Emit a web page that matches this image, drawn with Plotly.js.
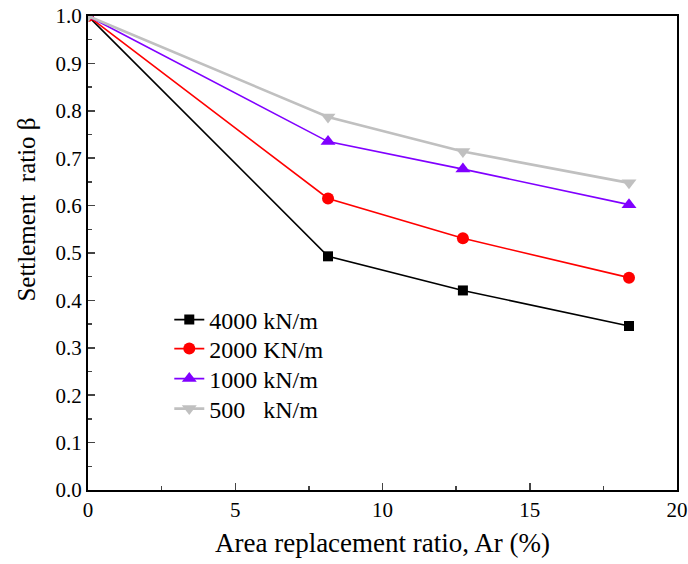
<!DOCTYPE html>
<html>
<head>
<meta charset="utf-8">
<script src="https://cdn.plot.ly/plotly-3.0.1.min.js"></script>
<style>html,body{margin:0;padding:0;background:#fff}#chart{width:688px;height:564px}</style>
</head>
<body>
<div id="chart"></div>
<script>
const ar = [0, 8.15, 12.73, 18.37];
const names = ['4000 kN/m', '2000 KN/m', '1000 kN/m', '500&nbsp;&nbsp; kN/m'];
const beta4000 = [1.0, 0.493, 0.421, 0.346];
const beta2000 = [1.0, 0.615, 0.531, 0.448];
const beta1000 = [1.0, 0.735, 0.677, 0.602];
const beta500 = [1.0, 0.787, 0.714, 0.648];

const series = [beta4000, beta2000, beta1000, beta500];
const colors = ['#000000', '#ff0000', '#8000ff', '#c0c0c0'];
const symbols = ['square', 'circle', 'triangle-up', 'triangle-down'];
const widths = [1.6, 1.6, 1.6, 2.6];
const msizes = [10, 12, 13, 13];
const legendIds = ['legend', 'legend2', 'legend3', 'legend4'];
const legendRows = [0.3586, 0.2975, 0.2342, 0.1709];

const traces = series.map((s, i) => ({
  x: ar, y: s, name: names[i], type: 'scatter', mode: 'lines+markers',
  legend: legendIds[i],
  line: {color: colors[i], width: widths[i]},
  marker: {color: colors[i], symbol: symbols[i], size: msizes[i]}
}));

const font = 'Liberation Serif, Times New Roman, serif';
const layout = {
  width: 688, height: 564,
  margin: {l: 88, r: 11, t: 16, b: 74},
  paper_bgcolor: '#fff', plot_bgcolor: '#fff',
  font: {family: font, color: '#000', size: 21},
  showlegend: true,
  xaxis: {
    range: [0, 20], dtick: 5, tick0: 0, ticks: 'inside', ticklen: 7, tickwidth: 1.5,
    showline: true, linewidth: 2, linecolor: '#000', mirror: true, showgrid: false, zeroline: false,
    minor: {dtick: 2.5, ticks: 'inside', ticklen: 4, tickwidth: 1.5, showgrid: false},
    tickfont: {family: font, size: 21, color: '#000'},
    title: {text: 'Area replacement ratio, Ar (%)', font: {family: font, size: 27, color: '#000'}, standoff: 12}
  },
  yaxis: {
    range: [0, 1.0], dtick: 0.1, tick0: 0, tickformat: '.1f', ticks: 'inside', ticklen: 7, tickwidth: 1.5,
    showline: true, linewidth: 2, linecolor: '#000', mirror: true, showgrid: false, zeroline: false,
    minor: {dtick: 0.05, ticks: 'inside', ticklen: 4, tickwidth: 1.5, showgrid: false},
    tickfont: {family: font, size: 21, color: '#000'}
  },
  annotations: [{
    text: 'Settlement&nbsp; ratio β', textangle: -90, showarrow: false,
    xref: 'paper', yref: 'paper', x: -0.104, y: 0.591, xanchor: 'center', yanchor: 'middle',
    font: {family: font, size: 25, color: '#000'}
  }]
};
legendIds.forEach((id, i) => {
  layout[id] = {x: 0.138, y: legendRows[i], xanchor: 'left', yanchor: 'middle',
    bgcolor: 'rgba(0,0,0,0)', borderwidth: 0,
    font: {family: font, size: 24, color: '#000'}};
});
Plotly.newPlot('chart', traces, layout, {displayModeBar: false, staticPlot: true});
</script>
</body>
</html>
